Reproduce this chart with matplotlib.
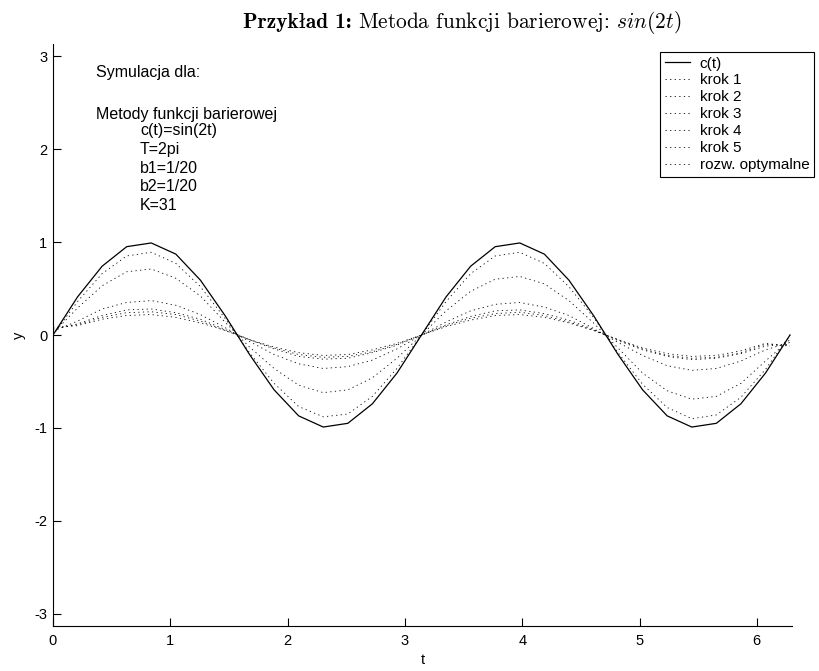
import numpy as np
import matplotlib
matplotlib.use('Agg')
import matplotlib.pyplot as plt
from matplotlib.offsetbox import TextArea, HPacker, AnchoredOffsetbox

plt.rcParams['font.family'] = ['Liberation Sans', 'DejaVu Sans']
plt.rcParams['mathtext.fontset'] = 'cm'
plt.rcParams['axes.unicode_minus'] = False

# 31 samples on [0, 2pi]
t = np.linspace(0, 2 * np.pi, 31)

# c(t) = sin(2t)
ct = [0, .41, .74, .95, .99, .87, .59, .21, -.21, -.59, -.87, -.99, -.95, -.74, -.41, 0,
      .41, .74, .95, .99, .87, .59, .21, -.21, -.59, -.87, -.99, -.95, -.74, -.41, 0]

# dotted curves
krok1 = [.08, .10, .17, .21, .22, .19, .13, .05, -.05, -.13, -.19, -.22, -.21, -.16, -.09, 0,
         .09, .16, .21, .22, .19, .13, .05, -.05, -.14, -.20, -.23, -.22, -.17, -.09, -.12]
krok2 = [.07, .11, .19, .24, .25, .22, .15, .05, -.05, -.14, -.21, -.24, -.23, -.18, -.10, 0,
         .10, .18, .23, .245, .21, .14, .05, -.05, -.15, -.22, -.25, -.24, -.19, -.10, -.11]
krok3 = [.06, .12, .21, .27, .28, .24, .17, .06, -.05, -.15, -.23, -.26, -.25, -.19, -.11, 0,
         .11, .20, .26, .27, .23, .16, .06, -.06, -.16, -.23, -.265, -.25, -.20, -.12, -.10]
krok4 = [.04, .15, .28, .35, .37, .32, .22, .08, -.07, -.21, -.31, -.36, -.34, -.27, -.15, 0,
         .14, .26, .33, .35, .30, .21, .07, -.08, -.22, -.33, -.38, -.36, -.28, -.16, -.08]
krok5 = [.02, .29, .53, .68, .71, .61, .42, .14, -.13, -.36, -.54, -.62, -.59, -.46, -.25, 0,
         .26, .47, .60, .63, .55, .37, .13, -.14, -.41, -.60, -.69, -.66, -.52, -.28, -.05]
opt = [0, .36, .66, .85, .89, .77, .52, .18, -.19, -.52, -.77, -.88, -.85, -.66, -.36, 0,
       .36, .66, .85, .89, .77, .52, .19, -.19, -.53, -.78, -.90, -.86, -.67, -.37, 0]

dotted = [krok1, krok2, krok3, krok4, krok5, opt]
labels = ['krok 1', 'krok 2', 'krok 3', 'krok 4', 'krok 5', 'rozw. optymalne']

info_head = ['Symulacja dla:', 'Metody funkcji barierowej']
info_params = ['c(t)=sin(2t)', 'T=2pi', 'b1=1/20', 'b2=1/20', 'K=31']

title_bold = 'Przykład 1:'
title_rest = 'Metoda funkcji barierowej: $sin(2t)$'

fig = plt.figure(figsize=(8.2, 6.71), dpi=100)
ax = fig.add_axes([53 / 820, 45 / 671, 739 / 820, 582 / 671])

ax.plot(t, ct, color='k', lw=0.9, label='c(t)')
for yy, lab in zip(dotted, labels):
    ax.plot(t, yy, color='k', lw=0.6, linestyle=(0, (1.5, 4)), label=lab)

ax.set_xlim(0, 6.3)
ax.set_ylim(-3.13, 3.13)
ax.set_xticks(range(0, 7))
ax.set_yticks(range(-3, 4))
ax.spines['top'].set_visible(False)
ax.spines['right'].set_visible(False)
ax.tick_params(direction='in', length=6, width=0.8, labelsize=10.5)
ax.tick_params(axis='x', pad=6)
ax.tick_params(axis='y', pad=4)
ax.set_xlabel('t', fontsize=10.5, labelpad=3)
ax.set_ylabel('y', fontsize=10.5, labelpad=6)

# info block in the upper left
fig.text(96 / 820, 1 - 73 / 671, info_head[0], fontsize=11.5, va='center')
fig.text(96 / 820, 1 - 115 / 671, info_head[1], fontsize=11.5, va='center')
for i, s in enumerate(info_params):
    fig.text(140 / 820, 1 - (131 + 18.5 * i) / 671, s, fontsize=11.5, va='center')

leg = ax.legend(loc='upper right', bbox_to_anchor=(814 / 820, 1 - 52 / 671),
                bbox_transform=fig.transFigure, fontsize=11, fancybox=False,
                edgecolor='k', framealpha=1, borderaxespad=0, handlelength=1.65,
                labelspacing=0.19, borderpad=0.3, handletextpad=0.65)
leg.get_frame().set_linewidth(0.8)

# title: bold part + regular part with math
tb = TextArea(title_bold, textprops=dict(family=['cmb10', 'DejaVu Serif'], size=15.4))
tr = TextArea(title_rest, textprops=dict(family=['cmr10', 'DejaVu Serif'], size=15.4))
pack = HPacker(children=[tb, tr], align='baseline', pad=0, sep=5)
box = AnchoredOffsetbox(loc='center', child=pack, frameon=False, pad=0, borderpad=0,
                        bbox_to_anchor=(462 / 820, 1 - 22 / 671),
                        bbox_transform=fig.transFigure)
fig.add_artist(box)

fig.savefig('out.png', dpi=100)
